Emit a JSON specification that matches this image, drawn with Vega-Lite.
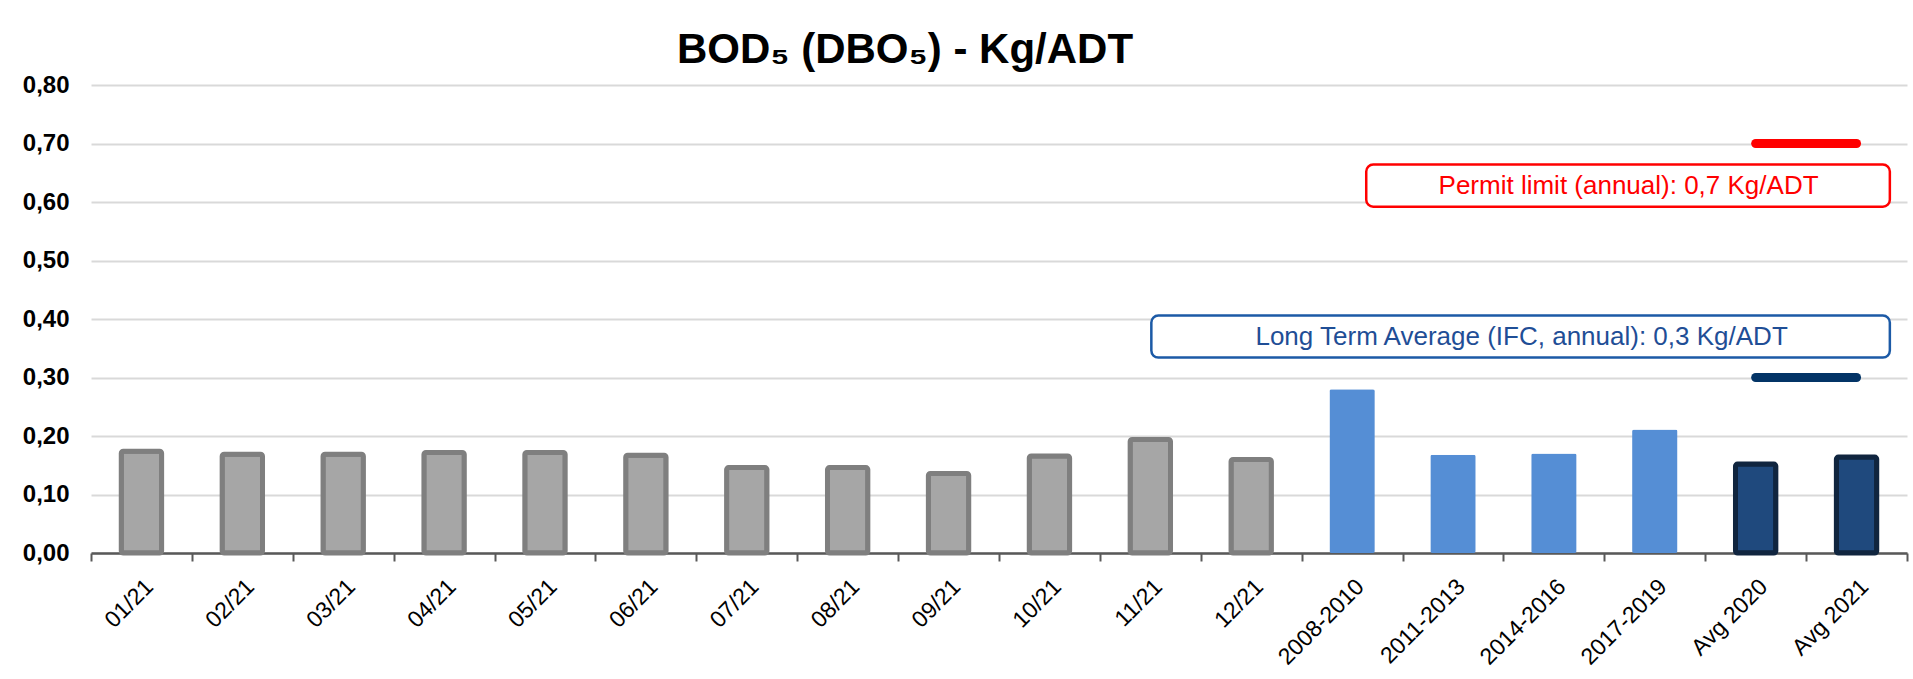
{
  "$schema": "https://vega.github.io/schema/vega-lite/v6.json",
  "width": 1816,
  "height": 468,
  "autosize": {"type": "none"},
  "padding": {"left": 91, "top": 85, "right": 6, "bottom": 126},
  "background": "white",
  "config": {"font": "Liberation Sans", "view": {"stroke": null}},
  "title": {
    "text": "BOD₅ (DBO₅) - Kg/ADT",
    "font": "Liberation Sans",
    "fontSize": 42,
    "fontWeight": "bold",
    "color": "black",
    "anchor": "middle",
    "frame": "group",
    "dx": -94,
    "offset": 22,
    "dy": 54,
    "baseline": "alphabetic"
  },
  "datasets": {
    "bars": [
      {"category": "01/21", "value": 0.174, "group": "month"},
      {"category": "02/21", "value": 0.169, "group": "month"},
      {"category": "03/21", "value": 0.169, "group": "month"},
      {"category": "04/21", "value": 0.172, "group": "month"},
      {"category": "05/21", "value": 0.172, "group": "month"},
      {"category": "06/21", "value": 0.167, "group": "month"},
      {"category": "07/21", "value": 0.146, "group": "month"},
      {"category": "08/21", "value": 0.146, "group": "month"},
      {"category": "09/21", "value": 0.136, "group": "month"},
      {"category": "10/21", "value": 0.166, "group": "month"},
      {"category": "11/21", "value": 0.194, "group": "month"},
      {"category": "12/21", "value": 0.160, "group": "month"},
      {"category": "2008-2010", "value": 0.280, "group": "period"},
      {"category": "2011-2013", "value": 0.168, "group": "period"},
      {"category": "2014-2016", "value": 0.170, "group": "period"},
      {"category": "2017-2019", "value": 0.211, "group": "period"},
      {"category": "Avg 2020", "value": 0.152, "group": "avg"},
      {"category": "Avg 2021", "value": 0.164, "group": "avg"}
    ],
    "limits": [
      {"category": "Avg 2020", "value": 0.7, "series": "permit"},
      {"category": "Avg 2021", "value": 0.7, "series": "permit"},
      {"category": "Avg 2020", "value": 0.3, "series": "lta"},
      {"category": "Avg 2021", "value": 0.3, "series": "lta"}
    ],
    "boxes": [
      {"kind": "permit", "label": "Permit limit (annual): 0,7 Kg/ADT", "x1": 12.64, "x2": 17.83, "y1": 0.592, "y2": 0.664, "tx": 15.24, "ty": 0.627},
      {"kind": "lta", "label": "Long Term Average (IFC, annual): 0,3 Kg/ADT", "x1": 10.51, "x2": 17.83, "y1": 0.334, "y2": 0.406, "tx": 14.18, "ty": 0.369}
    ]
  },
  "layer": [
    {
      "data": {"name": "bars"},
      "encoding": {
        "x": {
          "field": "category",
          "type": "nominal",
          "sort": null,
          "scale": {
            "domain": ["01/21","02/21","03/21","04/21","05/21","06/21","07/21","08/21","09/21","10/21","11/21","12/21","2008-2010","2011-2013","2014-2016","2017-2019","Avg 2020","Avg 2021"],
            "paddingInner": 0,
            "paddingOuter": 0
          },
          "axis": {
            "title": null,
            "labelAngle": -45,
            "labelFontSize": 23,
            "labelColor": "black",
            "labelFont": "Liberation Sans",
            "tickBand": "extent",
            "domainColor": "#595959",
            "domainWidth": 2.5,
            "tickColor": "#595959",
            "tickWidth": 2,
            "tickSize": 8,
            "labelPadding": 14,
            "grid": false
          }
        },
        "y": {
          "field": "value",
          "type": "quantitative",
          "scale": {"domain": [0, 0.8], "nice": false},
          "axis": {"title": null, "values": [0, 0.1, 0.2, 0.3, 0.4, 0.5, 0.6, 0.7, 0.8], "labelExpr": "replace(format(datum.value, '.2f'), '.', ',')", "labelFontSize": 24, "labelFontWeight": "bold", "labelFont": "Liberation Sans", "labelColor": "black", "labelPadding": 22, "domain": false, "ticks": false, "grid": true, "gridColor": "#d9d9d9", "gridWidth": 2}
        }
      },
      "layer": [
        {
          "transform": [{"filter": "datum.group === 'month'"}],
          "mark": {"type": "bar", "width": {"band": 0.4}, "cornerRadius": 2, "fill": "#A6A6A6", "stroke": "#7F7F7F", "strokeWidth": 5}
        },
        {
          "transform": [{"filter": "datum.group === 'period'"}],
          "mark": {"type": "bar", "width": {"band": 0.45}, "cornerRadius": 2, "fill": "#558ED5", "stroke": null}
        },
        {
          "transform": [{"filter": "datum.group === 'avg'"}],
          "mark": {"type": "bar", "width": {"band": 0.4}, "cornerRadius": 2, "fill": "#1F497D", "stroke": "#10253F", "strokeWidth": 5}
        },
        {
          "data": {"name": "limits"},
          "transform": [{"filter": "datum.series === 'permit'"}],
          "mark": {"type": "line", "strokeWidth": 9, "strokeCap": "round", "color": "#FF0000"}
        },
        {
          "data": {"name": "limits"},
          "transform": [{"filter": "datum.series === 'lta'"}],
          "mark": {"type": "line", "strokeWidth": 9, "strokeCap": "round", "color": "#033466"}
        }
      ]
    },
    {
      "data": {"name": "boxes"},
      "encoding": {
        "x": {"field": "x1", "type": "quantitative", "scale": {"domain": [0, 18], "nice": false, "zero": false}, "axis": null},
        "y": {
          "field": "y1",
          "type": "quantitative",
          "axis": {"title": null, "values": [0, 0.1, 0.2, 0.3, 0.4, 0.5, 0.6, 0.7, 0.8], "labelExpr": "replace(format(datum.value, '.2f'), '.', ',')", "labelFontSize": 24, "labelFontWeight": "bold", "labelFont": "Liberation Sans", "labelColor": "black", "labelPadding": 22, "domain": false, "ticks": false, "grid": true, "gridColor": "#d9d9d9", "gridWidth": 2}
        }
      },
      "layer": [
        {
          "transform": [{"filter": "datum.kind === 'permit'"}],
          "mark": {"type": "rect", "fill": "white", "stroke": "#FF0000", "strokeWidth": 2.5, "cornerRadius": 7},
          "encoding": {"x2": {"field": "x2"}, "y2": {"field": "y2"}}
        },
        {
          "transform": [{"filter": "datum.kind === 'lta'"}],
          "mark": {"type": "rect", "fill": "white", "stroke": "#1C5AA6", "strokeWidth": 2.5, "cornerRadius": 7},
          "encoding": {"x2": {"field": "x2"}, "y2": {"field": "y2"}}
        },
        {
          "transform": [{"filter": "datum.kind === 'permit'"}],
          "mark": {"type": "text", "align": "center", "baseline": "middle", "fontSize": 26, "font": "Liberation Sans", "color": "#FF0000"},
          "encoding": {
            "x": {"field": "tx", "type": "quantitative"},
            "y": {"field": "ty", "type": "quantitative"},
            "text": {"field": "label"}
          }
        },
        {
          "transform": [{"filter": "datum.kind === 'lta'"}],
          "mark": {"type": "text", "align": "center", "baseline": "middle", "fontSize": 26, "font": "Liberation Sans", "color": "#1F4E96"},
          "encoding": {
            "x": {"field": "tx", "type": "quantitative"},
            "y": {"field": "ty", "type": "quantitative"},
            "text": {"field": "label"}
          }
        }
      ]
    }
  ],
  "resolve": {"scale": {"x": "independent"}}
}
